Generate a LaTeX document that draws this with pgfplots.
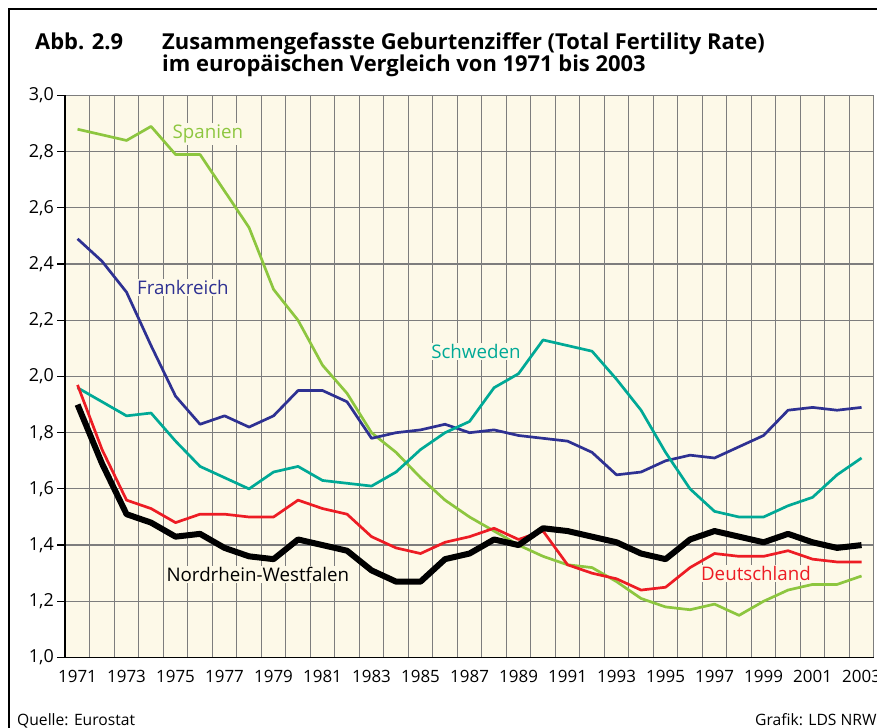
\documentclass[border=0pt]{standalone}
\usepackage{pgfplots}
\pgfplotsset{compat=1.18}
\usepackage{pgfplotstable}
\usepackage{fontspec}
\setmainfont{Open Sans}

\definecolor{bgcream}{RGB}{253,249,232}
\definecolor{spgreen}{RGB}{141,198,63}
\definecolor{frblue}{RGB}{46,49,146}
\definecolor{seteal}{RGB}{0,169,150}
\definecolor{dered}{RGB}{237,28,36}
\definecolor{gridgray}{RGB}{125,125,125}

% total fertility rate
\pgfplotstableread{
year ES   FR   SE   DE   NRW
1971 2.88 2.49 1.96 1.97 1.90
1972 2.86 2.41 1.91 1.74 1.69
1973 2.84 2.30 1.86 1.56 1.51
1974 2.89 2.11 1.87 1.53 1.48
1975 2.79 1.93 1.77 1.48 1.43
1976 2.79 1.83 1.68 1.51 1.44
1977 2.66 1.86 1.64 1.51 1.39
1978 2.53 1.82 1.60 1.50 1.36
1979 2.31 1.86 1.66 1.50 1.35
1980 2.20 1.95 1.68 1.56 1.42
1981 2.04 1.95 1.63 1.53 1.40
1982 1.94 1.91 1.62 1.51 1.38
1983 1.80 1.78 1.61 1.43 1.31
1984 1.73 1.80 1.66 1.39 1.27
1985 1.64 1.81 1.74 1.37 1.27
1986 1.56 1.83 1.80 1.41 1.35
1987 1.50 1.80 1.84 1.43 1.37
1988 1.45 1.81 1.96 1.46 1.42
1989 1.40 1.79 2.01 1.42 1.40
1990 1.36 1.78 2.13 1.45 1.46
1991 1.33 1.77 2.11 1.33 1.45
1992 1.32 1.73 2.09 1.30 1.43
1993 1.27 1.65 1.99 1.28 1.41
1994 1.21 1.66 1.88 1.24 1.37
1995 1.18 1.70 1.73 1.25 1.35
1996 1.17 1.72 1.60 1.32 1.42
1997 1.19 1.71 1.52 1.37 1.45
1998 1.15 1.75 1.50 1.36 1.43
1999 1.20 1.79 1.50 1.36 1.41
2000 1.24 1.88 1.54 1.38 1.44
2001 1.26 1.89 1.57 1.35 1.41
2002 1.26 1.88 1.65 1.34 1.39
2003 1.29 1.89 1.71 1.34 1.40
}\tfr

\begin{document}
\begin{tikzpicture}
\useasboundingbox (0,0) rectangle (877bp,728bp);
% frame of the figure
\draw[line width=2.5bp] (9bp,-5bp) -- (9bp,719bp) -- (885bp,719bp);
% title
\node[anchor=base west, inner sep=0, font=\fontsize{22}{26}\selectfont\bfseries] at (35bp,678bp) {Abb. 2.9};
\node[anchor=base west, inner sep=0, font=\fontsize{22}{26}\selectfont\bfseries] at (162bp,678bp) {Zusammengefasste Geburtenziffer (Total Fertility Rate)};
\node[anchor=base west, inner sep=0, font=\fontsize{22}{26}\selectfont\bfseries] at (162bp,656bp) {im europäischen Vergleich von 1971 bis 2003};

\begin{axis}[
  at={(65.3bp,70.5bp)}, anchor=south west,
  scale only axis, width=808.5bp, height=562bp,
  xmin=1970.5, xmax=2003.5, ymin=1, ymax=3,
  axis background/.style={fill=bgcream},
  axis line style={gridgray, line width=1.2bp},
  xtick={1971,1973,...,2003},
  minor xtick={1971.5,1972.5,...,2002.5},
  ytick={1.0,1.2,1.4,1.6,1.8,2.0,2.2,2.4,2.6,2.8,3.0},
  ymajorgrids, xminorgrids,
  grid style={gridgray, line width=1.2bp},
  minor grid style={gridgray, line width=1.2bp},
  tick align=outside,
  ytick pos=left,
  major tick length=8bp, minor tick length=0pt,
  ytick style={black, line width=1.2bp},
  xtick style={draw=none},
  xticklabel style={font=\fontsize{17}{20}\selectfont, /pgf/number format/1000 sep=, yshift=-1bp},
  yticklabel style={font=\fontsize{18}{21}\selectfont, /pgf/number format/.cd, use comma, fixed, fixed zerofill, precision=1},
  /pgf/number format/assume math mode=true,
  every axis plot/.append style={line join=round},
  clip=false,
]
\addplot[spgreen, line width=2.7bp] table[x=year, y=ES] {\tfr};
\addplot[frblue, line width=2.7bp] table[x=year, y=FR] {\tfr};
\addplot[seteal, line width=2.7bp] table[x=year, y=SE] {\tfr};
\addplot[dered, line width=2.7bp] table[x=year, y=DE] {\tfr};
\addplot[black, line width=6bp] table[x=year, y=NRW] {\tfr};

\draw[black, line width=1.8bp] (rel axis cs:0,1) -- (rel axis cs:0,0) -- (rel axis cs:1,0);

\begin{scope}[every node/.style={fill=bgcream, inner sep=1.5bp, font=\fontsize{18.8}{22}\selectfont}]
\node[text=spgreen] at (axis cs:1976.32,2.863) {Spanien};
\node[text=frblue] at (axis cs:1975.3,2.316) {Frankreich};
\node[text=seteal] at (axis cs:1987.26,2.088) {Schweden};
\node[text=black] at (axis cs:1978.36,1.295) {Nordrhein-Westfalen};
\node[text=dered] at (axis cs:1998.69,1.298) {Deutschland};
\end{scope}
\end{axis}

% footer
\node[anchor=base west, inner sep=0, font=\fontsize{15.7}{18}\selectfont] at (17bp,3bp) {Quelle: Eurostat};
\node[anchor=base west, inner sep=0, font=\fontsize{15.7}{18}\selectfont] at (755bp,3bp) {Grafik: LDS NRW};
\end{tikzpicture}
\end{document}
